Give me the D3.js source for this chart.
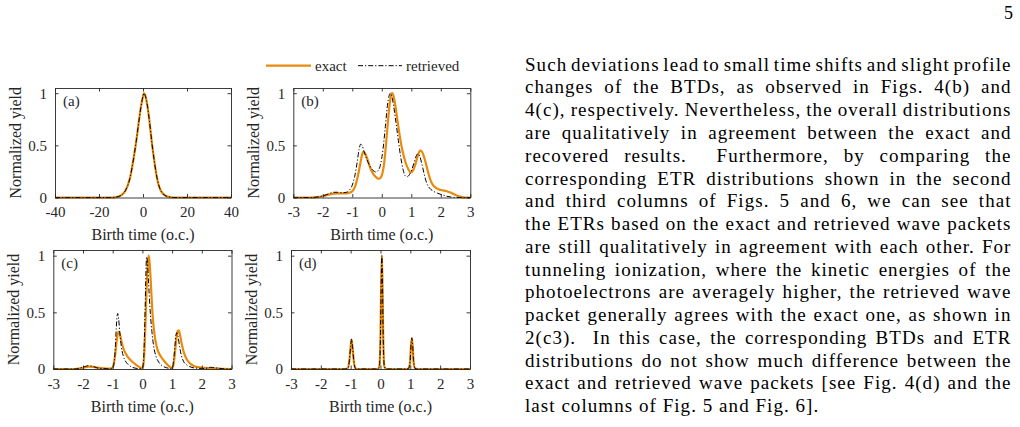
<!DOCTYPE html>
<html><head><meta charset="utf-8">
<script src="https://cdn.jsdelivr.net/npm/d3@7"></script>
<style>body{margin:0;background:#fff} svg{display:block}</style>
</head><body>
<svg id="c" width="1020" height="427"></svg>
<script>
// ---------- data ----------
const seriesNames = ["exact", "retrieved"];
const xTicksA = [-40, -20, 0, 20, 40];
const xTicksBCD = [-3, -2, -1, 0, 1, 2, 3];
const yTicks = [0, 0.5, 1];
const yTickLabels = ["0", "0.5", "1"];

const aExact = [[-40,0],[-14,0],[-12,0.005],[-10,0.02],[-8,0.065],[-6,0.18],[-4,0.41],[-3,0.55],[-2,0.71],[-1,0.86],[0,0.97],[0.4,1.0],[1,0.98],[2,0.88],[3,0.72],[4,0.53],[5,0.37],[6,0.23],[7,0.13],[8,0.07],[10,0.02],[12,0.005],[14,0],[40,0]];
const aRetrieved = [[-40,0],[-14,0],[-12,0.005],[-10,0.02],[-8,0.066],[-6,0.18],[-4,0.41],[-3,0.55],[-2,0.71],[-1,0.86],[0,0.97],[0.4,1.0],[1,0.98],[2,0.88],[3,0.72],[4,0.53],[5,0.37],[6,0.23],[7,0.13],[8,0.07],[10,0.02],[12,0.005],[14,0],[40,0]];

const bExact = [[-3,0],[-2.4,0],[-2.2,0.003],[-2.0,0.012],[-1.8,0.028],[-1.6,0.038],[-1.4,0.04],[-1.2,0.04],[-1.1,0.045],[-1.0,0.06],[-0.9,0.11],[-0.8,0.22],[-0.72,0.34],[-0.66,0.42],[-0.62,0.44],[-0.56,0.42],[-0.48,0.36],[-0.4,0.29],[-0.3,0.23],[-0.2,0.195],[-0.1,0.18],[-0.04,0.19],[0.02,0.23],[0.08,0.33],[0.14,0.5],[0.2,0.7],[0.26,0.88],[0.31,0.98],[0.35,1.0],[0.4,0.97],[0.46,0.88],[0.54,0.72],[0.62,0.57],[0.7,0.45],[0.8,0.34],[0.9,0.27],[0.98,0.24],[1.06,0.26],[1.14,0.32],[1.22,0.4],[1.3,0.45],[1.36,0.44],[1.42,0.4],[1.5,0.32],[1.58,0.23],[1.66,0.16],[1.76,0.11],[1.88,0.085],[2.0,0.072],[2.2,0.06],[2.35,0.045],[2.5,0.025],[2.65,0.008],[2.8,0],[3,0]];
const bRetrieved = [[-3,0],[-2.4,0],[-2.2,0.004],[-2.0,0.015],[-1.8,0.035],[-1.65,0.05],[-1.5,0.05],[-1.35,0.045],[-1.2,0.05],[-1.1,0.07],[-1.0,0.12],[-0.92,0.2],[-0.84,0.33],[-0.77,0.46],[-0.72,0.51],[-0.67,0.5],[-0.6,0.44],[-0.5,0.36],[-0.4,0.3],[-0.3,0.26],[-0.2,0.245],[-0.12,0.26],[-0.04,0.32],[0.04,0.46],[0.12,0.68],[0.19,0.88],[0.25,0.98],[0.29,1.0],[0.34,0.97],[0.4,0.88],[0.48,0.72],[0.56,0.55],[0.64,0.39],[0.72,0.27],[0.8,0.205],[0.86,0.2],[0.94,0.22],[1.02,0.27],[1.1,0.34],[1.17,0.4],[1.22,0.42],[1.28,0.4],[1.36,0.32],[1.44,0.22],[1.52,0.14],[1.62,0.09],[1.75,0.06],[1.9,0.04],[2.05,0.025],[2.2,0.012],[2.35,0.004],[2.5,0],[3,0]];

const cExact = [[-3,0],[-2.3,0],[-2.1,0.005],[-1.95,0.015],[-1.8,0.02],[-1.65,0.018],[-1.5,0.012],[-1.3,0.006],[-1.1,0.004],[-1.02,0.01],[-0.96,0.05],[-0.91,0.14],[-0.87,0.24],[-0.83,0.31],[-0.8,0.33],[-0.76,0.31],[-0.71,0.25],[-0.65,0.19],[-0.58,0.145],[-0.5,0.11],[-0.4,0.08],[-0.3,0.055],[-0.2,0.035],[-0.1,0.018],[-0.02,0.005],[0.02,0.02],[0.06,0.12],[0.1,0.38],[0.14,0.7],[0.18,0.93],[0.21,1.0],[0.24,0.95],[0.28,0.78],[0.32,0.58],[0.36,0.42],[0.41,0.3],[0.47,0.21],[0.54,0.15],[0.62,0.11],[0.72,0.075],[0.82,0.045],[0.92,0.02],[0.99,0.008],[1.03,0.02],[1.07,0.08],[1.11,0.18],[1.15,0.28],[1.19,0.335],[1.22,0.34],[1.26,0.31],[1.31,0.24],[1.37,0.17],[1.44,0.115],[1.52,0.075],[1.62,0.045],[1.75,0.025],[1.9,0.015],[2.1,0.01],[2.3,0.008],[2.5,0.005],[2.7,0.002],[3,0]];
const cRetrieved = [[-3,0],[-2.3,0],[-2.1,0.008],[-1.95,0.02],[-1.82,0.03],[-1.7,0.025],[-1.55,0.012],[-1.35,0.004],[-1.1,0.002],[-1.0,0.01],[-0.95,0.06],[-0.91,0.2],[-0.88,0.36],[-0.85,0.47],[-0.83,0.49],[-0.8,0.44],[-0.76,0.32],[-0.71,0.2],[-0.65,0.12],[-0.57,0.07],[-0.48,0.04],[-0.38,0.02],[-0.25,0.008],[-0.1,0.003],[0.0,0.01],[0.04,0.08],[0.08,0.4],[0.11,0.75],[0.14,0.99],[0.17,0.94],[0.21,0.75],[0.26,0.52],[0.32,0.33],[0.38,0.2],[0.46,0.11],[0.55,0.06],[0.66,0.03],[0.8,0.012],[0.95,0.005],[1.02,0.02],[1.06,0.1],[1.1,0.22],[1.13,0.3],[1.16,0.32],[1.2,0.29],[1.25,0.2],[1.31,0.12],[1.38,0.07],[1.47,0.04],[1.6,0.02],[1.8,0.008],[2.1,0.005],[2.3,0.015],[2.45,0.01],[2.7,0.003],[3,0]];

const dExact = [[-3,0],[-1.2,0],[-1.1,0.005],[-1.05,0.06],[-1.0,0.2],[-0.97,0.26],[-0.94,0.2],[-0.89,0.06],[-0.84,0.005],[-0.78,0],[-0.1,0],[-0.04,0.02],[0,0.3],[0.02,0.7],[0.045,1.0],[0.07,0.7],[0.09,0.3],[0.13,0.02],[0.2,0],[0.88,0],[0.94,0.005],[0.99,0.06],[1.02,0.2],[1.05,0.27],[1.08,0.2],[1.11,0.06],[1.16,0.005],[1.24,0],[3,0]];
const dRetrieved = [[-3,0],[-1.2,0],[-1.1,0.005],[-1.05,0.06],[-1.0,0.2],[-0.97,0.265],[-0.94,0.2],[-0.89,0.06],[-0.84,0.005],[-0.78,0],[-0.1,0],[-0.04,0.02],[0,0.3],[0.02,0.7],[0.045,1.0],[0.07,0.7],[0.09,0.3],[0.13,0.02],[0.2,0],[0.88,0],[0.94,0.005],[0.99,0.06],[1.02,0.2],[1.05,0.275],[1.08,0.2],[1.11,0.06],[1.16,0.005],[1.24,0],[3,0]];

const panelLabels = ["(a)", "(b)", "(c)", "(d)"];
const xAxisTitle = "Birth time (o.c.)";
const yAxisTitle = "Normalized yield";
const pageNumber = "5";
const bodyLines = [
 "Such deviations lead to small time shifts and slight profile",
 "changes of the BTDs, as observed in Figs. 4(b) and",
 "4(c), respectively. Nevertheless, the overall distributions",
 "are qualitatively in agreement between the exact and",
 "recovered results.  Furthermore, by comparing the",
 "corresponding ETR distributions shown in the second",
 "and third columns of Figs. 5 and 6, we can see that",
 "the ETRs based on the exact and retrieved wave packets",
 "are still qualitatively in agreement with each other. For",
 "tunneling ionization, where the kinetic energies of the",
 "photoelectrons are averagely higher, the retrieved wave",
 "packet generally agrees with the exact one, as shown in",
 "2(c3).  In this case, the corresponding BTDs and ETR",
 "distributions do not show much difference between the",
 "exact and retrieved wave packets [see Fig. 4(d) and the",
 "last columns of Fig. 5 and Fig. 6]."
];

// ---------- styles ----------
const ORANGE = "#E88A0C";
const AXC = "#262626";
const FIGFONT = "'Liberation Serif', 'Times New Roman', serif";

const svg = d3.select("#c");

const panels = [
  {x0:55,   x1:231,   y0:88,  y1:197.5, xd:[-40,40], ticks:xTicksA,   ex:aExact, re:aRetrieved, lab:panelLabels[0]},
  {x0:293.3,x1:470.3, y0:88,  y1:197.5, xd:[-3,3],   ticks:xTicksBCD, ex:bExact, re:bRetrieved, lab:panelLabels[1]},
  {x0:53.3, x1:231.5, y0:250, y1:369,   xd:[-3,3],   ticks:xTicksBCD, ex:cExact, re:cRetrieved, lab:panelLabels[2]},
  {x0:291,  x1:470,   y0:250, y1:369,   xd:[-3,3],   ticks:xTicksBCD, ex:dExact, re:dRetrieved, lab:panelLabels[3]}
];

panels.forEach(p => {
  const x = d3.scaleLinear().domain(p.xd).range([p.x0, p.x1]);
  const y = d3.scaleLinear().domain([0, 1.05]).range([p.y1, p.y0]);
  const g = svg.append("g");
  const tl = 3.5;

  const axB = d3.axisBottom(x).tickValues(p.ticks).tickSizeInner(-tl).tickSizeOuter(0).tickPadding(9).tickFormat(d3.format("d"));
  const axT = d3.axisTop(x).tickValues(p.ticks).tickSizeInner(-tl).tickSizeOuter(0).tickFormat("");
  const axL = d3.axisLeft(y).tickValues(yTicks).tickSizeInner(-tl).tickSizeOuter(0).tickPadding(8).tickFormat((d,i)=>yTickLabels[i]);
  const axR = d3.axisRight(y).tickValues(yTicks).tickSizeInner(-tl).tickSizeOuter(0).tickFormat("");

  const line = d3.line().x(d => x(d[0])).y(d => y(d[1])).curve(d3.curveMonotoneX);
  g.append("path").attr("d", line(p.ex)).attr("fill","none").attr("stroke",ORANGE).attr("stroke-width",2.2);
  g.append("path").attr("d", line(p.re)).attr("fill","none").attr("stroke","#000").attr("stroke-width",1)
    .attr("stroke-dasharray","5,2,1.2,2");

  const gb = g.append("g").attr("transform",`translate(0,${p.y1})`).call(axB);
  const gt = g.append("g").attr("transform",`translate(0,${p.y0})`).call(axT);
  const gl = g.append("g").attr("transform",`translate(${p.x0},0)`).call(axL);
  const gr = g.append("g").attr("transform",`translate(${p.x1},0)`).call(axR);
  [gb,gt,gl,gr].forEach(a => {
    a.select(".domain").attr("stroke",AXC).attr("stroke-width",0.9);
    a.selectAll(".tick line").attr("stroke",AXC).attr("stroke-width",0.9);
    a.selectAll("text").attr("fill",AXC).style("font-family",FIGFONT).style("font-size","15px");
  });
  gb.selectAll("text").text(d => d < 0 ? "-" + Math.abs(d) : String(d));

  g.append("text").attr("x",(p.x0+p.x1)/2).attr("y",p.y1+42.5).attr("text-anchor","middle")
    .attr("fill",AXC).style("font-family",FIGFONT).style("font-size","16px").text(xAxisTitle);
  g.append("text").attr("transform",`translate(${p.x0-40},${(p.y0+p.y1)/2}) rotate(-90)`)
    .attr("text-anchor","middle").attr("dy","0.35em")
    .attr("fill",AXC).style("font-family",FIGFONT).style("font-size","16px").text(yAxisTitle);
  g.append("text").attr("x",p.x0+8).attr("y",p.y0+18)
    .attr("fill",AXC).style("font-family",FIGFONT).style("font-size","15px").text(p.lab);
});

// legend
const lg = svg.append("g");
lg.append("line").attr("x1",266).attr("x2",311).attr("y1",65.7).attr("y2",65.7).attr("stroke",ORANGE).attr("stroke-width",2.2);
lg.append("text").attr("x",315).attr("y",70.5).attr("fill",AXC).style("font-family",FIGFONT).style("font-size","15px").text(seriesNames[0]);
lg.append("line").attr("x1",358).attr("x2",402).attr("y1",65.7).attr("y2",65.7).attr("stroke","#000").attr("stroke-width",1).attr("stroke-dasharray","5,2,1.2,2");
lg.append("text").attr("x",406).attr("y",70.5).attr("fill",AXC).style("font-family",FIGFONT).style("font-size","15px").text(seriesNames[1]);

// page number
svg.append("text").attr("x",1013).attr("y",19).attr("text-anchor","end")
  .style("font-family",FIGFONT).style("font-size","18px").text(pageNumber);

// body text, justified
const TX0 = 525, TX1 = 1011.5, BASE0 = 70.7, LH = 22.76;
const tg = svg.append("g").style("font-family",FIGFONT).style("font-size","19px")
  .style("letter-spacing","1.05px").attr("fill","#000");
bodyLines.forEach((s, i) => {
  const t = tg.append("text").attr("x",TX0).attr("y",BASE0 + i*LH).style("white-space","pre").text(s);
  if (i < bodyLines.length - 1) {
    const w = t.node().getBoundingClientRect().width;
    const n = (s.match(/ /g) || []).length;
    if (n > 0) t.attr("word-spacing", ((TX1 - TX0) - w) / n);
  }
});
</script>
</body></html>
